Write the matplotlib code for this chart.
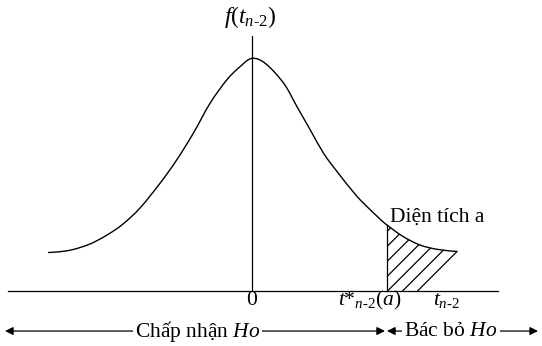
import numpy as np
import matplotlib.pyplot as plt
from matplotlib.path import Path
from matplotlib.patches import PathPatch

plt.rcParams['font.family'] = ['Liberation Serif', 'DejaVu Serif']
plt.rcParams['mathtext.fontset'] = 'custom'
plt.rcParams['mathtext.rm'] = 'Liberation Serif'
plt.rcParams['mathtext.it'] = 'Liberation Serif:italic'

# curve points (t, f(t))
t_vals = [-3.022, -2.844, -2.652, -2.400, -2.148, -1.911, -1.659, -1.363, -1.116,
          -0.870, -0.622, -0.375, -0.178, 0.0, 0.200, 0.470, 0.667, 0.864,
          1.062, 1.259, 1.507, 1.649, 1.896, 2.000, 2.237, 2.489, 2.741, 3.037]
f_vals = [0.0661, 0.0675, 0.0712, 0.0807, 0.0961, 0.1150, 0.1425, 0.1849, 0.2249,
          0.2707, 0.3222, 0.3622, 0.3851, 0.3994, 0.3905, 0.3566, 0.3164,
          0.2764, 0.2361, 0.2052, 0.1691, 0.1511, 0.1236, 0.1133, 0.0936, 0.0790,
          0.0716, 0.0678]
t_crit = 2.0
axis_left, axis_right = -3.615, 3.644
axis_top = 0.438


def smooth_path(xs, ys):
    # catmull-rom through the read points, drawn as cubic beziers
    pts = np.column_stack([xs, ys])
    verts = [pts[0]]
    codes = [Path.MOVETO]
    n = len(pts)
    for i in range(n - 1):
        p0 = pts[max(i - 1, 0)]
        p1 = pts[i]
        p2 = pts[i + 1]
        p3 = pts[min(i + 2, n - 1)]
        verts += [p1 + (p2 - p0) / 6, p2 - (p3 - p1) / 6, p2]
        codes += [Path.CURVE4] * 3
    return verts, codes


fig = plt.figure(figsize=(5.42, 3.46), dpi=100)
ax = fig.add_axes([0, 0, 1, 1])
ax.set_xlim(-3.733, 4.296)
ax.set_ylim(-0.0944, 0.4996)
ax.axis('off')

verts, codes = smooth_path(t_vals, f_vals)
ax.add_patch(PathPatch(Path(verts, codes), fill=False, edgecolor='black', lw=1.0))
ax.plot([axis_left, axis_right], [0, 0], color='black', lw=0.9)
ax.plot([0, 0], [0, axis_top], color='black', lw=0.9)

# shaded tail, hatched by hand; closed by the last hatch stroke
slope = 67.5 / 582.5
step = 15 / 67.5
k = t_vals.index(t_crit)
t_end, f_end = t_vals[-1], f_vals[-1]
foot = t_end - f_end / slope
tv, tc = smooth_path(t_vals[k:], f_vals[k:])
tail_verts = [(t_crit, 0), (t_crit, f_vals[k])] + tv[1:] + [(foot, 0), (t_crit, 0)]
tail_codes = [Path.MOVETO, Path.LINETO] + tc[1:] + [Path.LINETO, Path.CLOSEPOLY]
tail = PathPatch(Path(tail_verts, tail_codes), facecolor='none', edgecolor='none')
ax.add_patch(tail)
for i in range(8):
    x0 = foot - i * step
    ln, = ax.plot([x0, x0 + 0.2 / slope], [0, 0.2], color='black', lw=0.9)
    if i > 0:
        ln.set_clip_path(tail)
    else:
        ln.set_data([x0, t_end], [0, f_end])
ax.plot([t_crit, t_crit], [0, f_vals[k]], color='black', lw=0.9)

fs = 15.5
ax.text(-0.03, 0.470, r'$f(t_{n\text{-}2})$', ha='center', va='center', fontsize=17)
ax.text(0, -0.017, '0', ha='center', va='center', fontsize=fs)
ax.text(1.748, -0.017, r'$t{*}_{n\text{-}2}(a)$', ha='center', va='center', fontsize=fs)
ax.text(2.889, -0.017, r'$t_{n\text{-}2}$', ha='center', va='center', fontsize=fs)
ax.text(2.044, 0.127, 'Diện tích a', ha='left', va='center', fontsize=fs)

y_arr = -0.0687
arrow = dict(arrowstyle='<|-|>', color='black', lw=0.9,
             mutation_scale=12, shrinkA=0, shrinkB=0)
ax.annotate('', xy=(-3.659, y_arr), xytext=(1.970, y_arr), arrowprops=arrow)
ax.annotate('', xy=(2.0, y_arr), xytext=(4.237, y_arr), arrowprops=arrow)
box = dict(facecolor='white', edgecolor='none', pad=1.5)
ax.text(-0.807, y_arr, 'Chấp nhận $Ho$', ha='center', va='center',
        fontsize=fs, bbox=box)
ax.text(2.948, y_arr, 'Bác bỏ $Ho$', ha='center', va='center',
        fontsize=fs, bbox=box)

fig.savefig('out.png', dpi=100)
